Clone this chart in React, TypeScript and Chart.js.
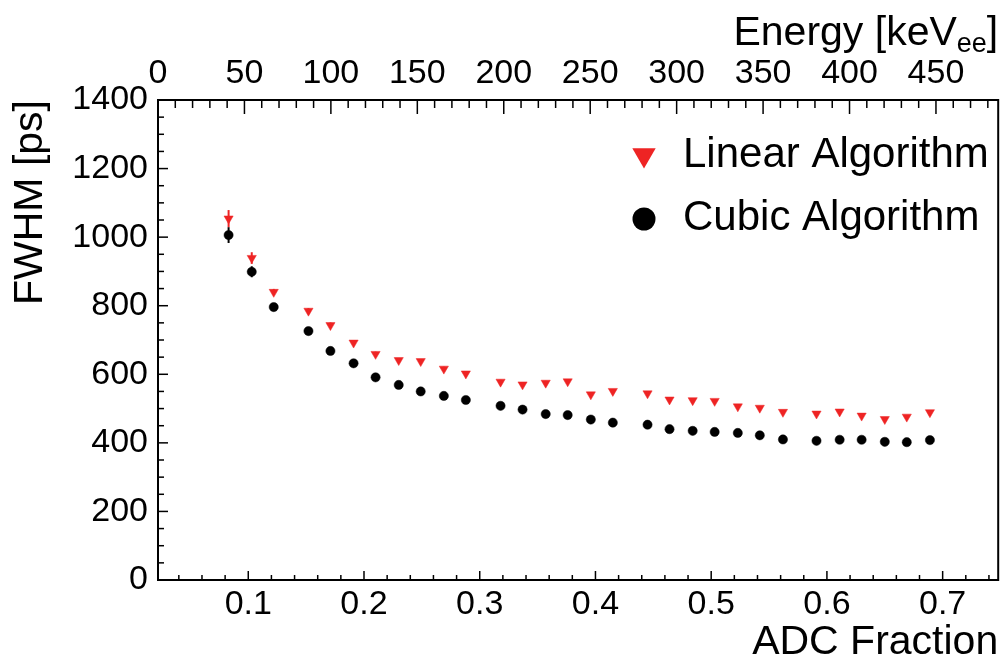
import React, { useEffect, useRef } from "react";
import { Chart, registerables } from "chart.js";

Chart.register(...registerables);

const FONT = '"Liberation Sans", Arial, Helvetica, sans-serif';
const RED = "#ee2424";
const BLACK = "#000000";

// ADC fraction (bottom axis) of each measurement
const adcFraction = [
  0.083, 0.103, 0.122, 0.152, 0.171, 0.191, 0.21, 0.23, 0.249, 0.269, 0.288,
  0.318, 0.337, 0.357, 0.376, 0.396, 0.415, 0.445, 0.464, 0.484, 0.503, 0.523,
  0.542, 0.562, 0.591, 0.611, 0.63, 0.65, 0.669, 0.689,
];
// FWHM [ps], linear algorithm
const linearFwhm = [
  1054, 939, 840, 785, 743, 692, 659, 641, 638, 616, 602, 578, 570, 575, 579,
  541, 551, 544, 526, 524, 522, 506, 502, 490, 485, 491, 479, 469, 476, 489,
];
const linearErr = [
  25, 17, 9, 8, 8, 7, 7, 6, 6, 6, 6, 6, 6, 6, 6, 5, 5, 5, 5, 5, 5, 5, 5, 5, 5,
  5, 5, 5, 5, 5,
];
// FWHM [ps], cubic algorithm
const cubicFwhm = [
  1006, 899, 796, 726, 668, 632, 591, 569, 550, 537, 525, 508, 497, 484, 481,
  468, 459, 453, 440, 435, 432, 429, 422, 410, 406, 409, 409, 403, 402, 408,
];
const cubicErr = [
  23, 16, 9, 8, 7, 7, 6, 6, 6, 6, 6, 5, 5, 5, 5, 5, 5, 5, 5, 5, 5, 5, 5, 5, 5,
  5, 5, 5, 5, 5,
];

const xRange = [0.022, 0.748];
const energyRange = [0, 486];
const yRange = [0, 1400];

const seriesNames = ["Linear Algorithm", "Cubic Algorithm"];

function drawTicks(ctx: CanvasRenderingContext2D, scale: any, step: number, every: number, majorLen: number, minorLen: number, side: string, area: any) {
  const kMin = Math.ceil(scale.min / step - 1e-9);
  const kMax = Math.floor(scale.max / step + 1e-9);
  for (let k = kMin; k <= kMax; k++) {
    const v = k * step;
    const major = k % every === 0;
    const len = major ? majorLen : minorLen;
    const p = scale.getPixelForValue(v);
    ctx.beginPath();
    if (side === "bottom") {
      ctx.moveTo(p, area.bottom);
      ctx.lineTo(p, area.bottom - len);
    } else if (side === "top") {
      ctx.moveTo(p, area.top);
      ctx.lineTo(p, area.top + len);
    } else {
      ctx.moveTo(area.left, p);
      ctx.lineTo(area.left + len, p);
    }
    ctx.stroke();
  }
}

const frameTicks = {
  id: "frameTicks",
  afterDraw(chart: any) {
    const { ctx, chartArea: a, scales } = chart;
    ctx.save();
    ctx.strokeStyle = BLACK;
    ctx.lineWidth = 1.5;
    drawTicks(ctx, scales.x, 0.02, 5, 9, 5, "bottom", a);
    drawTicks(ctx, scales.xTop, 10, 5, 14, 8, "top", a);
    drawTicks(ctx, scales.y, 50, 4, 10, 6, "left", a);
    ctx.lineWidth = 2;
    ctx.strokeRect(a.left, a.top, a.right - a.left, a.bottom - a.top);
    ctx.restore();
  },
};

const errorBars = {
  id: "errorBars",
  afterDatasetsDraw(chart: any) {
    const { ctx } = chart;
    ctx.save();
    chart.data.datasets.forEach((ds: any, i: number) => {
      const meta = chart.getDatasetMeta(i);
      const ys = chart.scales[meta.yAxisID];
      ctx.strokeStyle = ds.backgroundColor;
      ctx.lineWidth = 2;
      meta.data.forEach((pt: any, j: number) => {
        const v = ds.data[j].y;
        const e = ds.errors[j];
        ctx.beginPath();
        ctx.moveTo(pt.x, ys.getPixelForValue(v + e));
        ctx.lineTo(pt.x, ys.getPixelForValue(v - e));
        ctx.stroke();
      });
    });
    ctx.restore();
  },
};

const legendBox = {
  id: "legendBox",
  afterDraw(chart: any) {
    const { ctx, chartArea: a } = chart;
    ctx.save();
    ctx.font = `42px ${FONT}`;
    ctx.textBaseline = "middle";
    ctx.textAlign = "left";
    const sx = a.left + 486;
    const tx = a.left + 525;
    const rows = [a.top + 55, a.top + 118];
    chart.data.datasets.forEach((ds: any, i: number) => {
      const y = rows[i];
      ctx.fillStyle = ds.backgroundColor;
      ctx.beginPath();
      if (ds.pointStyle === "triangle") {
        const r = 13.5;
        ctx.moveTo(sx, y + r);
        ctx.lineTo(sx - r * 0.866, y - r / 2);
        ctx.lineTo(sx + r * 0.866, y - r / 2);
        ctx.closePath();
      } else {
        ctx.arc(sx, y + 1, 11.5, 0, Math.PI * 2);
      }
      ctx.fill();
      ctx.fillStyle = BLACK;
      ctx.fillText(ds.label, tx, y);
    });
    ctx.restore();
  },
};

const topTitle = {
  id: "topTitle",
  afterDraw(chart: any) {
    const { ctx, chartArea: a } = chart;
    ctx.save();
    ctx.fillStyle = BLACK;
    ctx.textBaseline = "alphabetic";
    ctx.textAlign = "left";
    const big = `41px ${FONT}`;
    const small = `27px ${FONT}`;
    ctx.font = big;
    const w1 = ctx.measureText("Energy [keV").width;
    const w3 = ctx.measureText("]").width;
    ctx.font = small;
    const w2 = ctx.measureText("ee").width;
    const right = a.right;
    let x = right - (w1 + w2 + w3);
    const base = 45;
    ctx.font = big;
    ctx.fillText("Energy [keV", x, base);
    x += w1;
    ctx.font = small;
    ctx.fillText("ee", x, base + 7);
    x += w2;
    ctx.font = big;
    ctx.fillText("]", x, base);
    ctx.restore();
  },
};

export default function App() {
  const ref = useRef<HTMLCanvasElement>(null);
  useEffect(() => {
    const tickFont = { family: FONT, size: 34, lineHeight: 1.2 };
    const noGrid = { display: false, drawTicks: false, tickLength: 0 };
    const chart = new Chart(ref.current as HTMLCanvasElement, {
      type: "scatter",
      data: {
        datasets: [
          {
            label: seriesNames[0],
            data: adcFraction.map((x, i) => ({ x, y: linearFwhm[i] })),
            pointStyle: "triangle",
            rotation: 180,
            pointRadius: 5.3,
            backgroundColor: RED,
            borderColor: RED,
            borderWidth: 0.5,
            showLine: false,
            errors: linearErr,
          } as any,
          {
            label: seriesNames[1],
            data: adcFraction.map((x, i) => ({ x, y: cubicFwhm[i] })),
            pointStyle: "circle",
            pointRadius: 4.6,
            backgroundColor: BLACK,
            borderColor: BLACK,
            borderWidth: 0.5,
            showLine: false,
            errors: cubicErr,
          } as any,
        ],
      },
      options: {
        animation: false,
        responsive: true,
        maintainAspectRatio: false,
        layout: { padding: { left: 0, right: 4, top: 0, bottom: 0 } },
        plugins: { legend: { display: false }, tooltip: { enabled: false } },
        scales: {
          x: {
            type: "linear",
            position: "bottom",
            min: xRange[0],
            max: xRange[1],
            grid: noGrid,
            border: { display: false },
            ticks: {
              stepSize: 0.1,
              includeBounds: false,
              autoSkip: false,
              maxRotation: 0,
              padding: 4,
              color: BLACK,
              font: tickFont,
              callback: (v: any) => Number(v).toFixed(1),
            },
            title: {
              display: true,
              text: "ADC Fraction",
              align: "end",
              color: BLACK,
              font: { family: FONT, size: 41, lineHeight: 1 },
              padding: 0,
            },
            afterFit: (s: any) => {
              s.height = 83;
            },
          },
          xTop: {
            type: "linear",
            position: "top",
            min: energyRange[0],
            max: energyRange[1],
            grid: noGrid,
            border: { display: false },
            ticks: {
              stepSize: 50,
              includeBounds: false,
              autoSkip: false,
              maxRotation: 0,
              padding: 6,
              color: BLACK,
              font: tickFont,
              callback: (v: any) => String(Math.round(Number(v))),
            },
            afterFit: (s: any) => {
              s.height = 100;
            },
          },
          y: {
            type: "linear",
            position: "left",
            min: yRange[0],
            max: yRange[1],
            grid: noGrid,
            border: { display: false },
            ticks: {
              stepSize: 200,
              includeBounds: false,
              autoSkip: false,
              padding: 10,
              color: BLACK,
              font: tickFont,
              callback: (v: any) => String(Math.round(Number(v))),
            },
            title: {
              display: true,
              text: "FWHM [ps]",
              align: "end",
              color: BLACK,
              font: { family: FONT, size: 41, lineHeight: 1.2 },
              padding: { top: 6, bottom: 0 },
            },
            afterFit: (s: any) => {
              s.width = 158;
            },
          },
        },
      } as any,
      plugins: [errorBars, frameTicks, legendBox, topTitle],
    });
    return () => chart.destroy();
  }, []);
  return (
    <div style={{ position: "absolute", left: 0, top: 0, width: 1004, height: 663 }}>
      <canvas ref={ref} />
    </div>
  );
}
